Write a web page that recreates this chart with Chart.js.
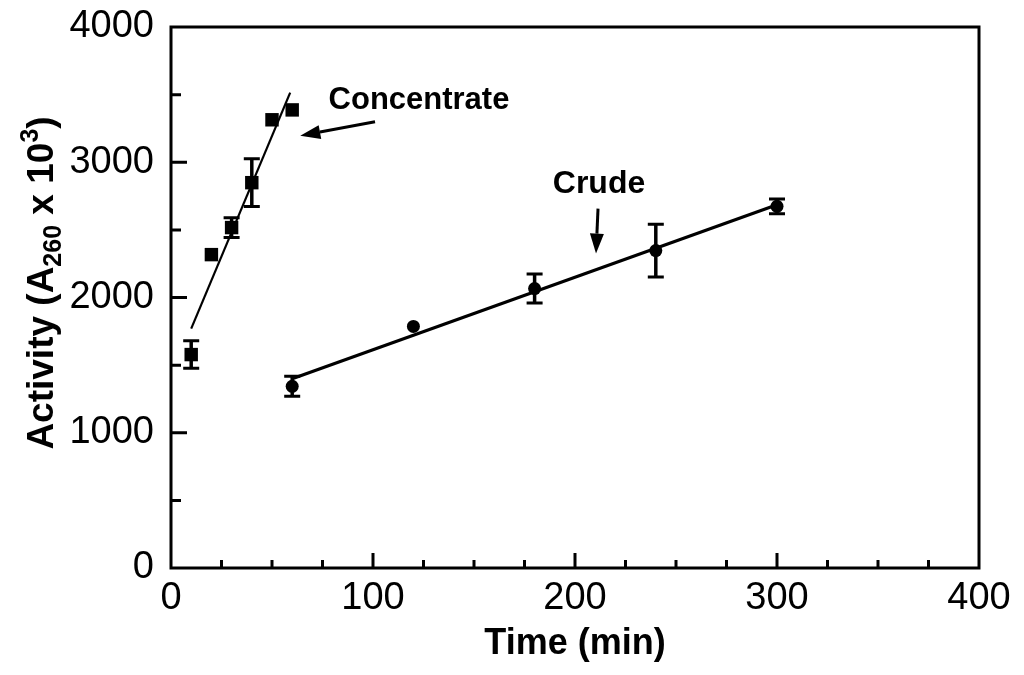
<!DOCTYPE html>
<html>
<head>
<meta charset="utf-8">
<script src="https://cdn.jsdelivr.net/npm/chart.js@4.4.1/dist/chart.umd.min.js"></script>
<style>
  html, body { margin: 0; padding: 0; background: #fff; }
  #wrap { width: 1024px; height: 675px; }
</style>
</head>
<body>
<div id="wrap"><canvas id="grafico"></canvas></div>
<script>
// dados
const concTime = [10, 20, 30, 40, 50, 60];
const concActivity = [1578, 2317, 2517, 2849, 3314, 3387];
const concErr = [102, 0, 73, 177, 0, 0];

const crudeTime = [60, 120, 180, 240, 300];
const crudeActivity = [1343, 1786, 2066, 2347, 2674];
const crudeErr = [74, 0, 107, 195, 55];

// retas de ajuste (extremos)
const concFitTime = [10, 59];
const concFitActivity = [1770, 3515];
const crudeFitTime = [60, 300];
const crudeFitActivity = [1400, 2686];

const xTicks = [0, 100, 200, 300, 400];
const yTicks = [0, 1000, 2000, 3000, 4000];

// anotações em coordenadas de dados
const notes = [
    { text: 'Concentrate', size: 31, x: 78, y: 3395, from: [101, 3299], to: [64, 3196] },
    { text: 'Crude', size: 32, x: 189, y: 2775, from: [211.4, 2657], to: [210.4, 2325] }
];

const pts = (xs, ys) => xs.map((x, i) => ({ x: x, y: ys[i] }));

const extras = {
    id: 'extras',
    afterDatasetsDraw(chart) {
        const ctx = chart.ctx;
        const xs = chart.scales.x, ys = chart.scales.y;
        const a = chart.chartArea;
        ctx.save();
        ctx.strokeStyle = '#000';
        ctx.fillStyle = '#000';

        // barras de erro
        const errSets = [[concTime, concActivity, concErr], [crudeTime, crudeActivity, crudeErr]];
        errSets.forEach(([tx, vy, ev]) => {
            tx.forEach((t, i) => {
                if (!ev[i]) return;
                const px = xs.getPixelForValue(t);
                const top = ys.getPixelForValue(vy[i] + ev[i]);
                const bot = ys.getPixelForValue(vy[i] - ev[i]);
                ctx.lineWidth = 3.5;
                ctx.beginPath();
                ctx.moveTo(px, top); ctx.lineTo(px, bot);
                ctx.stroke();
                ctx.lineWidth = 3;
                ctx.beginPath();
                ctx.moveTo(px - 8, top); ctx.lineTo(px + 8, top);
                ctx.moveTo(px - 8, bot); ctx.lineTo(px + 8, bot);
                ctx.stroke();
            });
        });

        // moldura
        ctx.lineWidth = 3;
        ctx.strokeRect(a.left, a.top, a.right - a.left, a.bottom - a.top);

        // marcas dos eixos (para dentro)
        ctx.lineWidth = 3;
        ctx.beginPath();
        for (let v = 25; v < 400; v += 25) {
            const px = xs.getPixelForValue(v);
            const len = v % 100 === 0 ? 15 : 8;
            ctx.moveTo(px, a.bottom); ctx.lineTo(px, a.bottom - len);
        }
        for (let v = 500; v < 4000; v += 500) {
            const py = ys.getPixelForValue(v);
            const len = v % 1000 === 0 ? 16 : 10;
            ctx.moveTo(a.left, py); ctx.lineTo(a.left + len, py);
        }
        ctx.stroke();

        // anotações
        ctx.textAlign = 'left';
        ctx.textBaseline = 'alphabetic';
        notes.forEach(n => {
            ctx.font = 'bold ' + n.size + 'px "Liberation Sans", Arial, sans-serif';
            ctx.fillText(n.text, xs.getPixelForValue(n.x), ys.getPixelForValue(n.y));
            const x1 = xs.getPixelForValue(n.from[0]), y1 = ys.getPixelForValue(n.from[1]);
            const x2 = xs.getPixelForValue(n.to[0]), y2 = ys.getPixelForValue(n.to[1]);
            const ang = Math.atan2(y2 - y1, x2 - x1);
            const hl = 20, hw = 7;
            const bx = x2 - hl * Math.cos(ang), by = y2 - hl * Math.sin(ang);
            ctx.lineWidth = 3;
            ctx.beginPath();
            ctx.moveTo(x1, y1); ctx.lineTo(bx, by);
            ctx.stroke();
            ctx.beginPath();
            ctx.moveTo(x2, y2);
            ctx.lineTo(bx + hw * Math.sin(ang), by - hw * Math.cos(ang));
            ctx.lineTo(bx - hw * Math.sin(ang), by + hw * Math.cos(ang));
            ctx.closePath();
            ctx.fill();
        });

        // título do eixo x
        ctx.font = 'bold 36px "Liberation Sans", Arial, sans-serif';
        ctx.textAlign = 'center';
        ctx.fillText('Time (min)', (a.left + a.right) / 2, 654);

        // título do eixo y com subscrito e sobrescrito
        const big = 'bold 37px "Liberation Sans", Arial, sans-serif';
        const small = 'bold 25px "Liberation Sans", Arial, sans-serif';
        const parts = [
            { t: 'Activity (A', f: big, dy: 0 },
            { t: '260', f: small, dy: 8 },
            { t: ' x 10', f: big, dy: 0 },
            { t: '3', f: small, dy: -15 },
            { t: ')', f: big, dy: 0 }
        ];
        let total = 0;
        parts.forEach(p => { ctx.font = p.f; p.w = ctx.measureText(p.t).width; total += p.w; });
        ctx.translate(53, 283);
        ctx.rotate(-Math.PI / 2);
        ctx.textAlign = 'left';
        let cx = -total / 2;
        parts.forEach(p => {
            ctx.font = p.f;
            ctx.fillText(p.t, cx, p.dy);
            cx += p.w;
        });
        ctx.restore();
    }
};

const tickFont = { family: '"Liberation Sans", Arial, sans-serif', size: 38 };

new Chart(document.getElementById('grafico'), {
    type: 'scatter',
    data: {
        datasets: [
            {
                label: 'Concentrate fit',
                data: pts(concFitTime, concFitActivity),
                showLine: true,
                borderColor: '#000',
                borderWidth: 2.2,
                pointRadius: 0
            },
            {
                label: 'Crude fit',
                data: pts(crudeFitTime, crudeFitActivity),
                showLine: true,
                borderColor: '#000',
                borderWidth: 3.2,
                pointRadius: 0
            },
            {
                label: 'Concentrate',
                data: pts(concTime, concActivity),
                pointStyle: 'rect',
                pointRadius: 9.5,
                backgroundColor: '#000',
                borderColor: '#000',
                borderWidth: 0
            },
            {
                label: 'Crude',
                data: pts(crudeTime, crudeActivity),
                pointStyle: 'circle',
                pointRadius: 6.5,
                backgroundColor: '#000',
                borderColor: '#000',
                borderWidth: 0
            }
        ]
    },
    options: {
        responsive: true,
        maintainAspectRatio: false,
        animation: false,
        devicePixelRatio: 1,
        layout: { padding: { top: 27, right: 45, left: 0, bottom: 0 } },
        plugins: {
            legend: { display: false },
            tooltip: { enabled: false }
        },
        scales: {
            x: {
                type: 'linear',
                min: 0,
                max: 400,
                afterBuildTicks: s => { s.ticks = xTicks.map(v => ({ value: v })); },
                ticks: { font: tickFont, color: '#000', padding: 8, maxRotation: 0, callback: v => String(v) },
                grid: { display: false, drawTicks: false },
                border: { display: false },
                afterFit: s => { s.height = 107; s.paddingLeft = 0; s.paddingRight = 0; }
            },
            y: {
                type: 'linear',
                min: 0,
                max: 4000,
                afterBuildTicks: s => { s.ticks = yTicks.map(v => ({ value: v })); },
                ticks: { font: tickFont, color: '#000', padding: 17, callback: v => String(v) },
                grid: { display: false, drawTicks: false },
                border: { display: false },
                afterFit: s => { s.width = 171; s.paddingTop = 0; s.paddingBottom = 0; }
            }
        }
    },
    plugins: [extras]
});
</script>
</body>
</html>
